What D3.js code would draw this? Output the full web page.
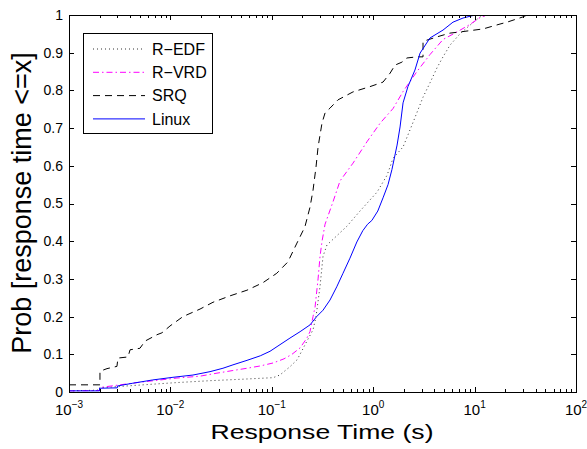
<!DOCTYPE html>
<html>
<head>
<meta charset="utf-8">
<script src="https://cdn.jsdelivr.net/npm/d3@7"></script>
<style>
  body { margin: 0; background: #fff; }
  svg { font-family: "Liberation Sans", Arial, Helvetica, sans-serif; }
</style>
</head>
<body>
<div id="wrapper"></div>
<script>
// response time (s) vs cumulative probability
const seriesNames = ['R\u2212EDF', 'R\u2212VRD', 'SRQ', 'Linux']

const redfData = [
  [0.001, 0.003], [0.002, 0.005], [0.002, 0.011], [0.00537, 0.019], [0.0116, 0.025],
  [0.0246, 0.03], [0.052, 0.034], [0.103, 0.038], [0.12, 0.045], [0.151, 0.067],
  [0.177, 0.085], [0.19, 0.1], [0.222, 0.135], [0.255, 0.165], [0.273, 0.2],
  [0.299, 0.28], [0.32, 0.36], [0.35, 0.39], [0.44, 0.415], [0.552, 0.44],
  [0.741, 0.48], [1.09, 0.53], [1.37, 0.575], [1.57, 0.62], [1.97, 0.65],
  [2.47, 0.715], [3.1, 0.782], [3.63, 0.82], [4.26, 0.86], [4.88, 0.889],
  [5.72, 0.92], [7.17, 0.95], [9.0, 0.973], [11.3, 0.995], [13.5, 1.0]
]

const rvrdData = [
  [0.001, 0.003], [0.002, 0.004], [0.00202, 0.012], [0.00469, 0.025], [0.0116, 0.037],
  [0.0196, 0.042], [0.0288, 0.05], [0.0414, 0.057], [0.0569, 0.063], [0.0766, 0.069],
  [0.103, 0.077], [0.132, 0.088], [0.158, 0.1], [0.19, 0.117], [0.222, 0.143],
  [0.238, 0.16], [0.255, 0.2], [0.267, 0.225], [0.286, 0.3], [0.299, 0.36],
  [0.313, 0.4], [0.335, 0.445], [0.402, 0.505], [0.471, 0.56], [0.632, 0.607],
  [0.869, 0.664], [1.17, 0.713], [1.57, 0.752], [1.97, 0.797], [2.7, 0.85],
  [3.63, 0.895], [4.88, 0.935], [6.7, 0.955], [9.0, 0.975], [11.3, 0.993], [13.2, 1.0]
]

const srqData = [
  [0.001, 0.019], [0.00202, 0.019], [0.00202, 0.055], [0.00237, 0.062], [0.00297, 0.068],
  [0.00304, 0.09], [0.00382, 0.093], [0.004, 0.112], [0.00501, 0.116], [0.00562, 0.135],
  [0.00738, 0.152], [0.00826, 0.157], [0.0099, 0.175], [0.0133, 0.2], [0.0196, 0.22],
  [0.0263, 0.238], [0.0387, 0.255], [0.0569, 0.27], [0.0818, 0.29], [0.112, 0.315],
  [0.144, 0.345], [0.177, 0.395], [0.212, 0.438], [0.238, 0.49], [0.255, 0.535],
  [0.273, 0.597], [0.286, 0.65], [0.313, 0.714], [0.335, 0.74], [0.375, 0.753],
  [0.45, 0.775], [0.632, 0.796], [0.929, 0.81], [1.25, 0.822], [1.47, 0.846],
  [1.64, 0.867], [1.92, 0.875], [2.15, 0.886], [2.7, 0.889], [3.1, 0.889],
  [3.1, 0.93], [4.26, 0.942], [5.72, 0.952], [7.17, 0.955], [12.1, 0.963],
  [17.8, 0.976], [20.9, 0.981], [30, 0.995], [32.9, 1.0]
]

const linuxData = [
  [0.001, 0.003], [0.002, 0.003], [0.002, 0.01], [0.003, 0.011], [0.003, 0.016],
  [0.0042, 0.023], [0.0067, 0.032], [0.0106, 0.039], [0.0167, 0.045], [0.0246, 0.054],
  [0.033, 0.063], [0.0414, 0.072], [0.057, 0.084], [0.077, 0.096], [0.096, 0.108],
  [0.115, 0.122], [0.151, 0.143], [0.19, 0.16], [0.238, 0.178], [0.277, 0.2],
  [0.32, 0.217], [0.375, 0.244], [0.437, 0.279], [0.504, 0.315], [0.59, 0.355],
  [0.69, 0.398], [0.79, 0.428], [0.88, 0.445], [0.97, 0.455], [1.11, 0.48], [1.25, 0.515],
  [1.4, 0.55], [1.53, 0.59], [1.72, 0.655], [1.84, 0.703], [1.97, 0.767],
  [2.2, 0.81], [2.58, 0.854], [2.9, 0.899], [3.63, 0.939], [4.88, 0.96],
  [6.12, 0.981], [7.69, 0.992], [10.1, 1.0]
]

const xTickExponents = [-3, -2, -1, 0, 1, 2]
const yTicks = [0, 0.1, 0.2, 0.3, 0.4, 0.5, 0.6, 0.7, 0.8, 0.9, 1]

function drawChart() {
  const dimensions = {
    width: 587,
    height: 449,
    margin: { top: 15, right: 11, bottom: 57, left: 69 },
  }
  dimensions.boundedWidth = dimensions.width
    - dimensions.margin.left - dimensions.margin.right
  dimensions.boundedHeight = dimensions.height
    - dimensions.margin.top - dimensions.margin.bottom

  const wrapper = d3.select('#wrapper')
    .append('svg')
    .attr('width', dimensions.width)
    .attr('height', dimensions.height)

  const bounds = wrapper.append('g')
    .attr('transform', `translate(${dimensions.margin.left},${dimensions.margin.top})`)

  // scales
  const xScale = d3.scaleLog()
    .domain([1e-3, 1e2])
    .range([0, dimensions.boundedWidth])
  const yScale = d3.scaleLinear()
    .domain([0, 1])
    .range([dimensions.boundedHeight, 0])

  // series
  const series = [
    { data: redfData, color: '#333', dash: '1,3', width: 1 },
    { data: rvrdData, color: '#ff00ff', dash: '6,3,1.5,3', width: 1 },
    { data: srqData, color: '#000', dash: '7,5', width: 1 },
    { data: linuxData, color: '#0000ff', dash: null, width: 1 },
  ]
  const lineGenerator = d3.line()
    .x(d => xScale(d[0]))
    .y(d => yScale(d[1]))

  bounds.append('defs').append('clipPath')
    .attr('id', 'clip')
    .append('rect')
    .attr('width', dimensions.boundedWidth)
    .attr('height', dimensions.boundedHeight)

  bounds.append('g')
    .attr('clip-path', 'url(#clip)')
    .selectAll('path')
    .data(series)
    .enter()
    .append('path')
    .attr('d', d => lineGenerator(d.data))
    .attr('fill', 'none')
    .attr('stroke', d => d.color)
    .attr('stroke-width', d => d.width)
    .attr('stroke-dasharray', d => d.dash)

  // axes: matlab style, inward ticks on all four sides
  const minorTicks = []
  xTickExponents.slice(0, -1).forEach(e => {
    for (let k = 2; k <= 9; k++) minorTicks.push(k * Math.pow(10, e))
  })
  const majorX = xTickExponents.map(e => Math.pow(10, e))

  const tickGroup = bounds.append('g')
    .attr('stroke', '#000')
    .attr('stroke-width', 1)
    .attr('shape-rendering', 'crispEdges')

  const bh = dimensions.boundedHeight
  const bw = dimensions.boundedWidth
  majorX.forEach(v => {
    const x = Math.round(xScale(v)) + 0.5
    tickGroup.append('line').attr('x1', x).attr('x2', x).attr('y1', bh).attr('y2', bh - 5)
    tickGroup.append('line').attr('x1', x).attr('x2', x).attr('y1', 0).attr('y2', 5)
  })
  minorTicks.forEach(v => {
    const x = Math.round(xScale(v)) + 0.5
    tickGroup.append('line').attr('x1', x).attr('x2', x).attr('y1', bh).attr('y2', bh - 3)
    tickGroup.append('line').attr('x1', x).attr('x2', x).attr('y1', 0).attr('y2', 3)
  })
  yTicks.forEach(v => {
    const y = Math.round(yScale(v)) + 0.5
    tickGroup.append('line').attr('x1', 0).attr('x2', 5).attr('y1', y).attr('y2', y)
    tickGroup.append('line').attr('x1', bw).attr('x2', bw - 5).attr('y1', y).attr('y2', y)
  })

  bounds.append('rect')
    .attr('x', 0.5)
    .attr('y', 0.5)
    .attr('width', bw)
    .attr('height', bh)
    .attr('fill', 'none')
    .attr('stroke', '#000')
    .attr('stroke-width', 1)
    .attr('shape-rendering', 'crispEdges')

  // tick labels
  bounds.append('g')
    .selectAll('text')
    .data(yTicks)
    .enter()
    .append('text')
    .attr('x', -6)
    .attr('y', d => yScale(d))
    .attr('dy', '0.35em')
    .attr('text-anchor', 'end')
    .style('font-size', '14px')
    .attr('fill', '#000')
    .text(d => d3.format('~g')(d))

  const xLabels = bounds.append('g')
    .selectAll('text')
    .data(xTickExponents)
    .enter()
    .append('text')
    .attr('x', d => xScale(Math.pow(10, d)))
    .attr('y', bh + 23)
    .attr('text-anchor', 'middle')
    .style('font-size', '15px')
    .attr('fill', '#000')
  xLabels.append('tspan').text('10')
  xLabels.append('tspan')
    .attr('dy', -7)
    .style('font-size', '10px')
    .text(d => String(d).replace('-', '\u2212'))

  // axis titles
  bounds.append('text')
    .attr('x', 322 - dimensions.margin.left)
    .attr('y', 439 - dimensions.margin.top)
    .attr('text-anchor', 'middle')
    .attr('textLength', 223)
    .attr('lengthAdjust', 'spacingAndGlyphs')
    .style('font-size', '21px')
    .text('Response Time (s)')

  bounds.append('text')
    .attr('transform', `translate(${31 - dimensions.margin.left},${203 - dimensions.margin.top}) rotate(-90)`)
    .attr('text-anchor', 'middle')
    .style('font-size', '27px')
    .text('Prob [response time <=x]')

  // legend
  const legend = bounds.append('g')
    .attr('transform', 'translate(14,18)')
  legend.append('rect')
    .attr('x', 0.5)
    .attr('y', 0.5)
    .attr('width', 129)
    .attr('height', 100)
    .attr('fill', '#fff')
    .attr('stroke', '#000')
    .attr('shape-rendering', 'crispEdges')
  const legendRows = legend.selectAll('.row')
    .data(series)
    .enter()
    .append('g')
    .attr('transform', (d, i) => `translate(0,${16 + i * 23.3})`)
  legendRows.append('line')
    .attr('x1', 10)
    .attr('x2', 62)
    .attr('stroke', d => d.color)
    .attr('stroke-width', d => d.width)
    .attr('stroke-dasharray', d => d.dash)
  legendRows.append('text')
    .attr('x', 69)
    .attr('dy', '0.35em')
    .style('font-size', '16px')
    .text((d, i) => seriesNames[i])
}

drawChart()
</script>
</body>
</html>
